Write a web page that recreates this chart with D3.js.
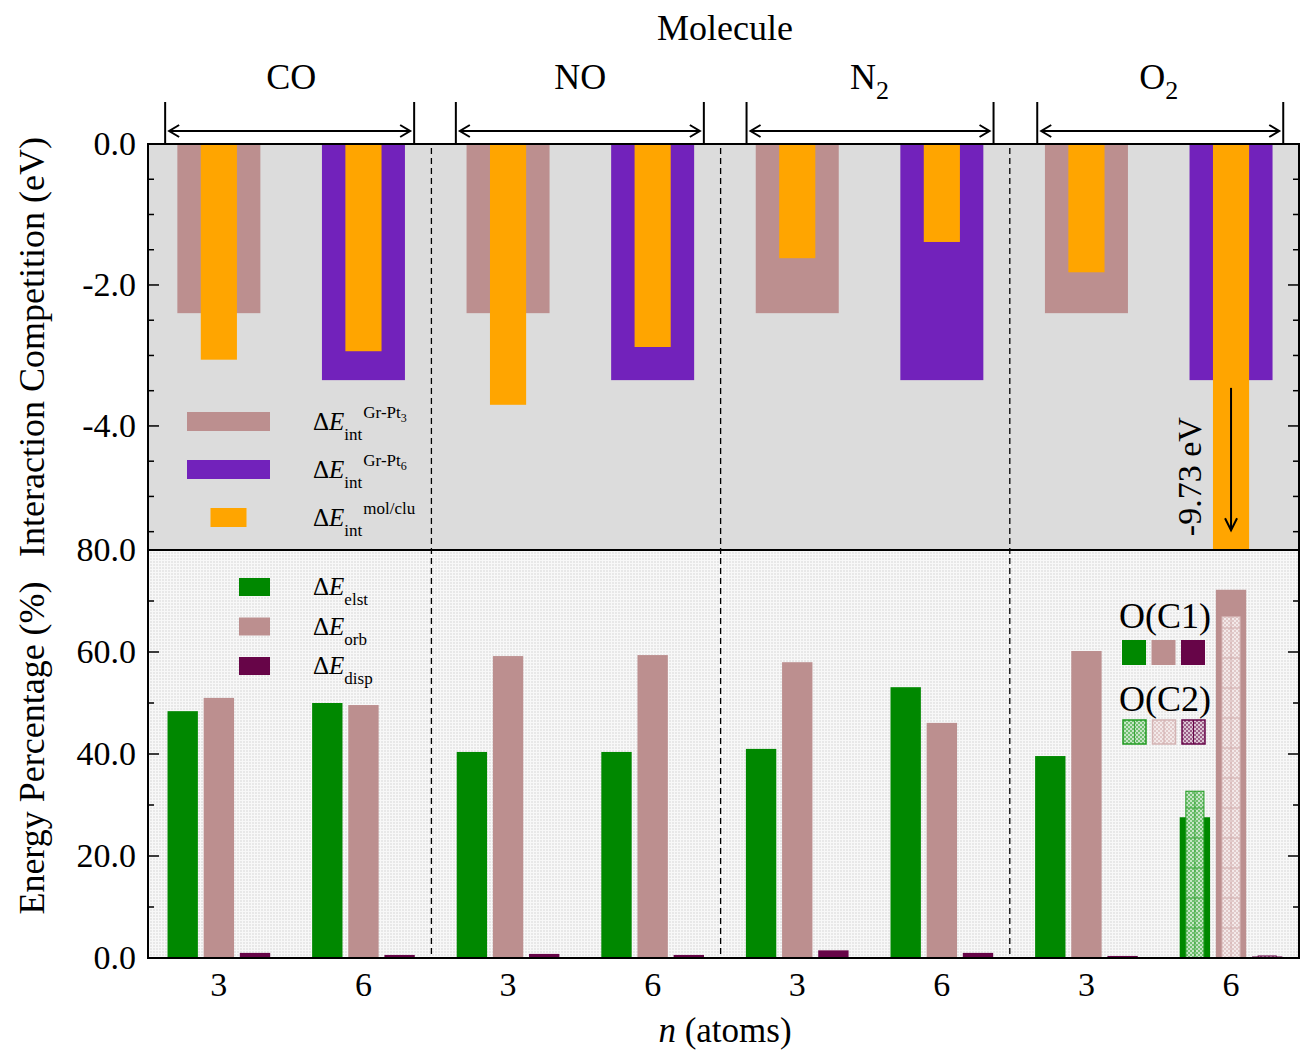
<!DOCTYPE html>
<html>
<head>
<meta charset="utf-8">
<script src="https://cdn.jsdelivr.net/npm/d3@7"></script>
<style>
  body { margin: 0; background: #fff; }
  svg { font-family: "Liberation Serif", "DejaVu Serif", serif; }
</style>
</head>
<body>
<div id="wrapper"></div>
<script>
// data
const molecules = ["CO", "NO", "N", "O"]
const moleculeSubs = ["", "", "2", "2"]
const sizes = [3, 6]
// cluster-support interaction, same for every molecule (Gr-Pt3, Gr-Pt6)
const eintGrPt = [-2.40, -3.35]
// molecule-cluster interaction [molecule][n]
const eintMolClu = [[-3.06, -2.94], [-3.70, -2.88], [-1.62, -1.39], [-1.82, -9.73]]
// energy decomposition (%) [molecule][n]
const eElst = [[48.4, 50.0], [40.4, 40.4], [41.0, 53.1], [39.6, 27.6]]
const eOrb = [[51.0, 49.6], [59.2, 59.4], [58.0, 46.1], [60.2, 72.2]]
const eDisp = [[1.0, 0.6], [0.8, 0.6], [1.5, 1.0], [0.4, 0.3]]
// second oxygen site of O2 on the n = 6 cluster
const c2Elst = 32.7
const c2Orb = 66.9
const c2Disp = 0.4
const topTicks = [0, -2, -4]
const bottomTicks = [0, 20, 40, 60, 80]

const colors = {
  grpt3: "#bc8f8f",
  grpt6: "#7222bb",
  molclu: "#ffa500",
  elst: "#008800",
  orb: "#bc8f8f",
  disp: "#670548",
}

// plain hyphen for negatives, like the original
const fmt = v => d3.format(".1f")(v).replace("−", "-")

async function drawChart() {
  const dimensions = {
    width: 1300,
    height: 1052,
    left: 148,
    right: 1299,
    top: 144,
    mid: 550,
    bottom: 958,
  }

  const svg = d3.select("#wrapper")
    .append("svg")
      .attr("width", dimensions.width)
      .attr("height", dimensions.height)

  const defs = svg.append("defs")

  // dotted texture of the lower panel
  const dots = defs.append("pattern")
    .attr("id", "dots")
    .attr("patternUnits", "userSpaceOnUse")
    .attr("width", 3).attr("height", 3)
  dots.append("rect").attr("width", 3).attr("height", 3).attr("fill", "#f8f8f8")
  dots.append("rect").attr("width", 2).attr("height", 2).attr("fill", "#e8e8e8")

  // checker hatch for the O(C2) bars
  const hatch = (id, light, dark) => {
    const p = defs.append("pattern")
      .attr("id", id)
      .attr("patternUnits", "userSpaceOnUse")
      .attr("width", 4).attr("height", 4)
    p.append("rect").attr("width", 4).attr("height", 4).attr("fill", light)
    p.append("rect").attr("width", 2).attr("height", 2).attr("fill", dark)
    p.append("rect").attr("x", 2).attr("y", 2).attr("width", 2).attr("height", 2).attr("fill", dark)
  }
  hatch("hatchElst", "#c6e6c6", "#6fbf6f")
  hatch("hatchOrb", "#f3e9e9", "#e0c8c8")
  hatch("hatchDisp", "#dcc4d4", "#9c5f88")

  defs.append("clipPath").attr("id", "clipTop")
    .append("rect")
      .attr("x", dimensions.left).attr("y", dimensions.top)
      .attr("width", dimensions.right - dimensions.left)
      .attr("height", dimensions.mid - dimensions.top)

  const xScale = d3.scaleLinear()
    .domain([-0.49, 7.47])
    .range([dimensions.left, dimensions.right])
  const unit = xScale(1) - xScale(0)

  const yTop = d3.scaleLinear()
    .domain([-5.76, 0])
    .range([dimensions.mid, dimensions.top])
  const yBot = d3.scaleLinear()
    .domain([0, 80])
    .range([dimensions.bottom, dimensions.mid])

  // backgrounds
  svg.append("rect")
    .attr("x", dimensions.left).attr("y", dimensions.top)
    .attr("width", dimensions.right - dimensions.left)
    .attr("height", dimensions.mid - dimensions.top)
    .attr("fill", "#dcdcdc")
  svg.append("rect")
    .attr("x", dimensions.left).attr("y", dimensions.mid)
    .attr("width", dimensions.right - dimensions.left)
    .attr("height", dimensions.bottom - dimensions.mid)
    .attr("fill", "url(#dots)")

  // flatten rows
  const rows = []
  molecules.forEach((m, g) => {
    sizes.forEach((n, k) => {
      rows.push({
        g, k, n,
        i: g * 2 + k,
        grpt: eintGrPt[k],
        molclu: eintMolClu[g][k],
        elst: eElst[g][k],
        orb: eOrb[g][k],
        disp: eDisp[g][k],
      })
    })
  })

  // top panel bars
  const topBars = svg.append("g").attr("clip-path", "url(#clipTop)")
  const wideW = 0.574
  const narrowW = 0.25
  topBars.selectAll(".grpt")
    .data(rows)
    .join("rect")
      .attr("x", d => xScale(d.i - wideW / 2))
      .attr("y", yTop(0))
      .attr("width", wideW * unit)
      .attr("height", d => yTop(d.grpt) - yTop(0))
      .attr("fill", d => d.k === 0 ? colors.grpt3 : colors.grpt6)
  topBars.selectAll(".molclu")
    .data(rows)
    .join("rect")
      .attr("x", d => xScale(d.i - narrowW / 2))
      .attr("y", yTop(0))
      .attr("width", narrowW * unit)
      .attr("height", d => yTop(Math.max(d.molclu, -5.76)) - yTop(0))
      .attr("fill", colors.molclu)

  // bottom panel bars
  const bw = 0.21
  const off = 0.25
  const series = [
    {key: "elst", shift: -off, color: colors.elst},
    {key: "orb", shift: 0, color: colors.orb},
    {key: "disp", shift: off, color: colors.disp},
  ]
  series.forEach(s => {
    svg.append("g").selectAll("rect")
      .data(rows)
      .join("rect")
        .attr("x", d => xScale(d.i + s.shift - bw / 2))
        .attr("y", d => yBot(d[s.key]))
        .attr("width", bw * unit)
        .attr("height", d => yBot(0) - yBot(d[s.key]))
        .attr("fill", s.color)
  })

  // O(C2) bars for O2, n = 6
  const c2W = 0.125
  const c2 = [
    {v: c2Elst, shift: -off, fill: "url(#hatchElst)", stroke: "#1f9a1f", line: "#3aa63a"},
    {v: c2Orb, shift: 0, fill: "url(#hatchOrb)", stroke: "#d4b4b4", line: "#d2aeae"},
    {v: c2Disp, shift: off, fill: "url(#hatchDisp)", stroke: "#670548", line: "#670548"},
  ]
  const c2g = svg.append("g")
  c2.forEach(c => {
    const cx = xScale(7 + c.shift)
    const x0 = xScale(7 + c.shift - c2W / 2)
    const w = c2W * unit
    const yt = yBot(c.v)
    c2g.append("rect")
      .attr("x", x0).attr("y", yt)
      .attr("width", w).attr("height", yBot(0) - yt)
      .attr("fill", c.fill)
      .attr("stroke", c.stroke)
      .attr("stroke-width", 1)
    if (yBot(0) - yt > 4) {
      c2g.append("line")
        .attr("x1", cx).attr("x2", cx)
        .attr("y1", yt).attr("y2", yBot(0))
        .attr("stroke", c.line).attr("stroke-width", 1)
      for (let y = yBot(0) - 30; y > yt + 2; y -= 30) {
        c2g.append("line")
          .attr("x1", x0).attr("x2", x0 + w)
          .attr("y1", y).attr("y2", y)
          .attr("stroke", c.line).attr("stroke-width", 1)
      }
    }
  })

  // dashed separators
  const seps = [1.47, 3.47, 5.47]
  svg.append("g").selectAll("line")
    .data(seps)
    .join("line")
      .attr("x1", d => xScale(d)).attr("x2", d => xScale(d))
      .attr("y1", dimensions.top + 4).attr("y2", dimensions.bottom)
      .attr("stroke", "#000")
      .attr("stroke-width", 1.3)
      .attr("stroke-dasharray", "6,4")

  // arrow for the off-scale O2 bar
  const ax = xScale(7)
  svg.append("line")
    .attr("x1", ax).attr("x2", ax)
    .attr("y1", yTop(-3.46)).attr("y2", yTop(-5.48))
    .attr("stroke", "#000").attr("stroke-width", 2)
  svg.append("path")
    .attr("d", `M${ax - 6},${yTop(-5.48) - 12} L${ax},${yTop(-5.48)} L${ax + 6},${yTop(-5.48) - 12}`)
    .attr("fill", "none").attr("stroke", "#000").attr("stroke-width", 2)
  svg.append("text")
    .attr("transform", `translate(${xScale(6.79)},${yTop(-4.72)}) rotate(-90)`)
    .attr("text-anchor", "middle")
    .attr("font-size", 34)
    .text(d3.format(".2f")(eintMolClu[3][1]).replace("−", "-") + " eV")

  // frame
  svg.append("rect")
    .attr("x", dimensions.left).attr("y", dimensions.top)
    .attr("width", dimensions.right - dimensions.left)
    .attr("height", dimensions.bottom - dimensions.top)
    .attr("fill", "none").attr("stroke", "#000").attr("stroke-width", 2)
  svg.append("line")
    .attr("x1", dimensions.left).attr("x2", dimensions.right)
    .attr("y1", dimensions.mid).attr("y2", dimensions.mid)
    .attr("stroke", "#000").attr("stroke-width", 2)

  // y axes, ticks inside on both sides
  const yAxisTop = d3.axisLeft(yTop)
    .tickValues(topTicks).tickSize(0).tickPadding(12)
    .tickFormat(fmt)
  const yAxisBot = d3.axisLeft(yBot)
    .tickValues(bottomTicks).tickSize(0).tickPadding(12)
    .tickFormat(fmt)
  const topAxis = svg.append("g")
    .attr("transform", `translate(${dimensions.left},0)`)
    .call(yAxisTop)
  const botAxis = svg.append("g")
    .attr("transform", `translate(${dimensions.left},0)`)
    .call(yAxisBot)
  ;[topAxis, botAxis].forEach(a => {
    a.select(".domain").remove()
    a.selectAll("text")
      .attr("font-family", "Liberation Serif")
      .attr("font-size", 34)
      .attr("fill", "#000")
  })

  const tickG = svg.append("g").attr("stroke", "#000").attr("stroke-width", 1.5)
  const topMinor = d3.range(0, -5.76, -0.5)
  const botMinor = d3.range(0, 81, 10)
  const drawTicks = (vals, scale, isMajor) => {
    vals.forEach(v => {
      const len = isMajor(v) ? 11 : 6
      const y = scale(v)
      tickG.append("line")
        .attr("x1", dimensions.left).attr("x2", dimensions.left + len)
        .attr("y1", y).attr("y2", y)
      tickG.append("line")
        .attr("x1", dimensions.right).attr("x2", dimensions.right - len)
        .attr("y1", y).attr("y2", y)
    })
  }
  drawTicks(topMinor, yTop, v => Math.abs(v % 2) < 1e-6)
  drawTicks(botMinor, yBot, v => v % 20 === 0)

  // x tick labels
  svg.append("g").selectAll("text")
    .data(rows)
    .join("text")
      .attr("x", d => xScale(d.i))
      .attr("y", 996)
      .attr("text-anchor", "middle")
      .attr("font-size", 34)
      .text(d => d.n)

  // axis titles
  const xTitle = svg.append("text")
    .attr("x", 725).attr("y", 1042)
    .attr("text-anchor", "middle")
    .attr("font-size", 35)
  xTitle.append("tspan").attr("font-style", "italic").text("n")
  xTitle.append("tspan").text(" (atoms)")

  svg.append("text")
    .attr("transform", `translate(44,347) rotate(-90)`)
    .attr("text-anchor", "middle")
    .attr("font-size", 36)
    .text("Interaction Competition (eV)")
  svg.append("text")
    .attr("transform", `translate(44,748) rotate(-90)`)
    .attr("text-anchor", "middle")
    .attr("font-size", 36)
    .text("Energy Percentage (%)")

  // molecule header with brackets
  svg.append("text")
    .attr("x", 725).attr("y", 40)
    .attr("text-anchor", "middle")
    .attr("font-size", 36)
    .text("Molecule")

  const header = svg.append("g")
  molecules.forEach((m, g) => {
    const c = xScale(g * 2 + 0.5)
    const x0 = c - 126 + g * 1.5
    const x1 = c + 123 + g * 0.5
    const label = header.append("text")
      .attr("x", c).attr("y", 89)
      .attr("text-anchor", "middle")
      .attr("font-size", 36)
    label.append("tspan").text(m)
    if (moleculeSubs[g]) {
      label.append("tspan")
        .attr("dy", 10).attr("font-size", 26)
        .text(moleculeSubs[g])
    }
    header.append("line")
      .attr("x1", x0).attr("x2", x0).attr("y1", 102).attr("y2", dimensions.top)
      .attr("stroke", "#000").attr("stroke-width", 2)
    header.append("line")
      .attr("x1", x1).attr("x2", x1).attr("y1", 102).attr("y2", dimensions.top)
      .attr("stroke", "#000").attr("stroke-width", 2)
    header.append("line")
      .attr("x1", x0 + 4).attr("x2", x1 - 4).attr("y1", 131).attr("y2", 131)
      .attr("stroke", "#000").attr("stroke-width", 2)
    header.append("path")
      .attr("d", `M${x0 + 14},${125} L${x0 + 4},${131} L${x0 + 14},${137} M${x1 - 14},${125} L${x1 - 4},${131} L${x1 - 14},${137}`)
      .attr("fill", "none").attr("stroke", "#000").attr("stroke-width", 2)
  })

  // legend: top panel
  const deltaLabel = (x, y, sub, sup, supSub) => {
    const t = svg.append("text").attr("x", x).attr("y", y).attr("font-size", 25)
    t.append("tspan").text("Δ")
    t.append("tspan").attr("font-style", "italic").text("E")
    t.append("tspan").attr("font-size", 17).attr("dy", 10).text(sub)
    if (sup) {
      t.append("tspan").attr("font-size", 17).attr("dy", -22).attr("dx", 1).text(sup)
      if (supSub) t.append("tspan").attr("font-size", 12).attr("dy", 4).text(supSub)
    }
  }
  const topLegend = [
    {color: colors.grpt3, w: 83, sup: "Gr-Pt", supSub: "3"},
    {color: colors.grpt6, w: 83, sup: "Gr-Pt", supSub: "6"},
    {color: colors.molclu, w: 36, sup: "mol/clu", supSub: ""},
  ]
  topLegend.forEach((d, j) => {
    const y = 412 + j * 48
    svg.append("rect")
      .attr("x", 228.5 - d.w / 2).attr("y", y)
      .attr("width", d.w).attr("height", 19)
      .attr("fill", d.color)
    deltaLabel(313, y + 18, "int", d.sup, d.supSub)
  })

  // legend: bottom panel
  const botLegend = [
    {color: colors.elst, sub: "elst"},
    {color: colors.orb, sub: "orb"},
    {color: colors.disp, sub: "disp"},
  ]
  botLegend.forEach((d, j) => {
    const y = 578 + j * 39.5
    svg.append("rect")
      .attr("x", 239).attr("y", y)
      .attr("width", 31).attr("height", 18)
      .attr("fill", d.color)
    deltaLabel(313, y + 17, d.sub)
  })

  // legend: oxygen sites
  svg.append("text").attr("x", 1119).attr("y", 628).attr("font-size", 36).text("O(C1)")
  svg.append("text").attr("x", 1119).attr("y", 711).attr("font-size", 36).text("O(C2)")
  const siteCols = [colors.elst, colors.orb, colors.disp]
  siteCols.forEach((c, j) => {
    svg.append("rect")
      .attr("x", 1122 + j * 29.5).attr("y", 640)
      .attr("width", 24).attr("height", 25)
      .attr("fill", c)
  })
  c2.forEach((c, j) => {
    const x = 1123 + j * 29.5
    svg.append("rect")
      .attr("x", x).attr("y", 720)
      .attr("width", 23).attr("height", 24)
      .attr("fill", c.fill)
      .attr("stroke", c.stroke).attr("stroke-width", 1.5)
    svg.append("line")
      .attr("x1", x + 11.5).attr("x2", x + 11.5)
      .attr("y1", 720).attr("y2", 744)
      .attr("stroke", c.line).attr("stroke-width", 1)
  })
}

drawChart()
</script>
</body>
</html>
